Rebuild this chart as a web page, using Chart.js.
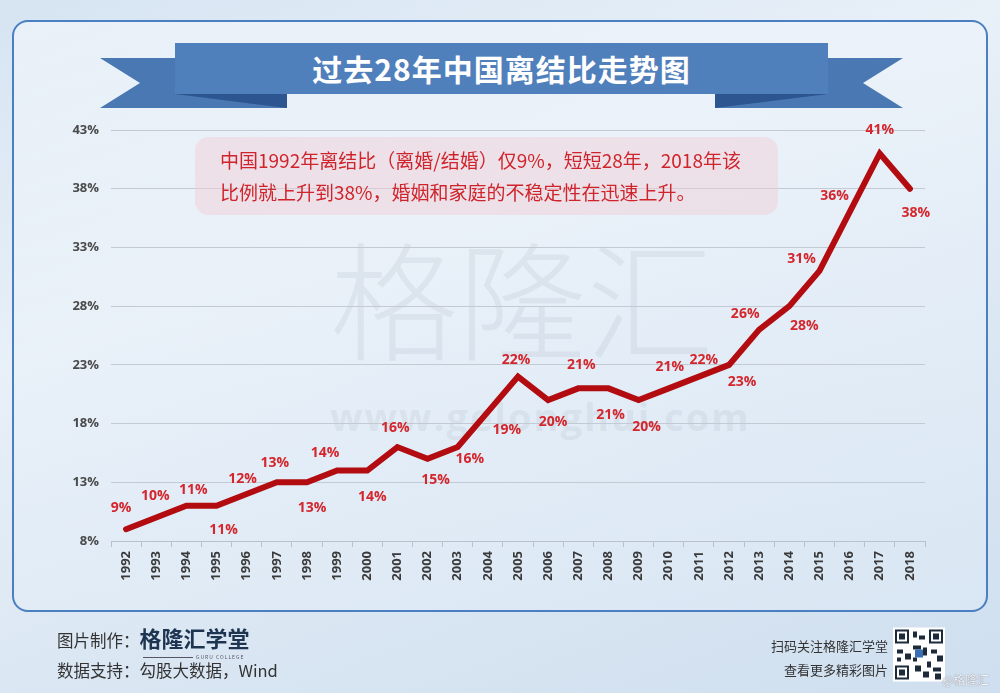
<!DOCTYPE html>
<html>
<head>
<meta charset="utf-8">
<title>过去28年中国离结比走势图</title>
<script src="https://cdn.jsdelivr.net/npm/chart.js@4.4.1/dist/chart.umd.min.js"></script>
<style>
  html, body { margin: 0; padding: 0; }
  body { width: 1000px; height: 693px; overflow: hidden; font-family: "Noto Sans CJK SC", "Noto Sans", sans-serif; }
  #page {
    position: relative; width: 1000px; height: 693px;
    background: linear-gradient(160deg, #d6e4f2 0%, #e8f0f8 35%, #dbe7f3 65%, #cfdfef 100%);
  }
  .frame {
    position: absolute; left: 12px; top: 20px; width: 972px; height: 588px;
    border: 2px solid #4a7fc1; border-radius: 16px;
    background: linear-gradient(170deg, rgba(240,245,251,0.7), rgba(222,234,246,0.55));
  }
  #ribbon { position: absolute; left: 0; top: 0; }
  .title {
    position: absolute; left: 175px; top: 43px; width: 653px; height: 51px;
    line-height: 51px; text-align: center; color: #fff; font-weight: 700; font-size: 30px;
    letter-spacing: 1px;
  }
  .watermark {
    position: absolute; left: 330px; top: 232px; font-size: 128px; line-height: 1; font-weight: 300;
    color: rgba(140,150,165,0.13);
  }
  .watermark-url {
    position: absolute; left: 330px; top: 390px; font-size: 38px; font-weight: 700;
    font-family: "Open Sans", sans-serif; color: rgba(140,150,165,0.14); letter-spacing: 2px;
  }
  #wrap { position: absolute; left: 0; top: 0; width: 1000px; height: 693px; }
  .note {
    position: absolute; left: 195px; top: 137px; width: 583px; height: 78px;
    border-radius: 14px; background: rgba(242,205,210,0.45);
    color: #d0242c; font-size: 19px; line-height: 32px; box-sizing: border-box; padding: 7px 0 0 25px;
    white-space: nowrap;
  }
  .foot { position: absolute; color: #333; font-size: 16.5px; }
  .brand { font-weight: 700; font-size: 22px; color: #1e3552; }
  .guru { position: absolute; left: 143px; top: 654px; font-size: 5px; line-height: 5px; color: #556; letter-spacing: 1px; }
  .guru:before { content: ""; display: inline-block; width: 50px; height: 1px; background: #556; vertical-align: middle; margin-right: 3px; }
  .qr { position: absolute; left: 893px; top: 627px; width: 52px; height: 55px; }
  .right { position: absolute; right: 112px; font-size: 13px; color: #333; text-align: right; }
  .at { position: absolute; left: 942px; top: 671px; font-size: 12px; color: #f4f6f8; text-shadow: 0 0 1px #556; }
</style>
</head>
<body>
<div id="page">
  <div class="frame"></div>
  <svg id="ribbon" width="1000" height="120">
    <polygon points="100,58 287,58 287,108 100,108 140,83" fill="#4a78b2"/>
    <polygon points="903,58 715,58 715,108 903,108 863,83" fill="#4a78b2"/>
    <polygon points="175,94 287,94 287,108" fill="#2d5690"/>
    <polygon points="828,94 715,94 715,108" fill="#2d5690"/>
    <rect x="175" y="43" width="653" height="51" fill="#5080bb"/>
  </svg>
  <div class="title">过去28年中国离结比走势图</div>
  <div class="watermark">格隆汇</div>
  <div class="watermark-url">www.gelonghui.com</div>
  <div id="wrap"><canvas id="chart" width="1000" height="693"></canvas></div>
  <div class="note">中国1992年离结比（离婚/结婚）仅9%，短短28年，2018年该<br>比例就上升到38%，婚姻和家庭的不稳定性在迅速上升。</div>

  <div class="foot" style="left:57px; top:621px;">图片制作：<span class="brand">格隆汇学堂</span></div>
  <div class="guru">GURU COLLEGE</div>
  <div class="foot" style="left:57px; top:658px;">数据支持：勾股大数据，Wind</div>
  <div class="right" style="top:636px;">扫码关注格隆汇学堂</div>
  <div class="right" style="top:660px;">查看更多精彩图片</div>
  <svg class="qr" viewBox="0 0 26 27">
    <rect width="26" height="27" fill="#fff"/>
    <g fill="#1c2a3a">
      <rect x="1" y="1" width="7" height="7"/><rect x="18" y="1" width="7" height="7"/><rect x="1" y="19" width="7" height="7"/>
      <rect x="10" y="2" width="2" height="3"/><rect x="13" y="4" width="3" height="2"/><rect x="10" y="9" width="4" height="2"/>
      <rect x="2" y="11" width="3" height="2"/><rect x="6" y="13" width="3" height="3"/><rect x="15" y="10" width="2" height="4"/>
      <rect x="19" y="11" width="3" height="2"/><rect x="22" y="14" width="3" height="3"/><rect x="17" y="17" width="2" height="3"/>
      <rect x="20" y="20" width="4" height="2"/><rect x="11" y="19" width="3" height="3"/><rect x="15" y="22" width="3" height="3"/>
      <rect x="21" y="23" width="3" height="3"/><rect x="2" y="15" width="2" height="2"/><rect x="10" y="15" width="2" height="2"/>
    </g>
    <g fill="#fff"><rect x="2" y="2" width="5" height="5"/><rect x="19" y="2" width="5" height="5"/><rect x="2" y="20" width="5" height="5"/></g>
    <g fill="#1c2a3a"><rect x="3" y="3" width="3" height="3"/><rect x="20" y="3" width="3" height="3"/><rect x="3" y="21" width="3" height="3"/></g>
    <rect x="11" y="11" width="4" height="4" fill="#3a6fb5"/>
  </svg>
  <div class="at">@格隆汇</div>
</div>

<script>
// 年份
const years = ['1992','1993','1994','1995','1996','1997','1998','1999','2000','2001','2002','2003','2004',
  '2005','2006','2007','2008','2009','2010','2011','2012','2013','2014','2015','2016','2017','2018'];
// 离结比 (%)
const ratio = [9,10,11,11,12,13,13,14,14,16,15,16,19,22,20,21,21,20,21,22,23,26,28,31,36,41,38];
// y axis ticks (%)
const yMin = 8, yMax = 43, yStep = 5;

// where each value label sits relative to its point, [dx, dy] in px
const labelOffsets = [[-5,-21],[-1,-21],[7,-16],[7,24],[-4,-15],[-2,-19],[5,26],[-12,-18],[5,26],[-2,-19],
  [8,21],[12,12],[19,18],[-2,-17],[5,22],[3,-23],[2,27],[8,27],[1,-21],[5,-17],[13,17],[-14,-16],[15,20],
  [-18,-12],[-15,-16],[0,-23],[6,24]];

const valueLabels = {
  id: 'valueLabels',
  afterDatasetsDraw(chart) {
    const ctx = chart.ctx;
    const meta = chart.getDatasetMeta(0);
    ctx.save();
    ctx.font = 'bold 14px "Open Sans", sans-serif';
    ctx.fillStyle = '#d4262c';
    ctx.textAlign = 'center';
    ctx.textBaseline = 'middle';
    meta.data.forEach((pt, i) => {
      const off = labelOffsets[i];
      ctx.fillText(ratio[i] + '%', pt.x + off[0], pt.y + off[1]);
    });
    ctx.restore();
  }
};

const chart = new Chart(document.getElementById('chart'), {
  type: 'line',
  data: {
    labels: years,
    datasets: [{
      data: ratio,
      borderColor: '#b30c10',
      borderWidth: 6,
      borderCapStyle: 'round',
      borderJoinStyle: 'miter',
      pointRadius: 0,
      tension: 0,
      fill: false
    }]
  },
  options: {
    responsive: false,
    animation: false,
    layout: { padding: { left: 0, top: 130, right: 75, bottom: 0 } },
    plugins: { legend: { display: false }, tooltip: { enabled: false } },
    scales: {
      x: {
        offset: true,
        grid: { offset: true, drawOnChartArea: false, drawTicks: true, tickLength: 6, color: '#b9c2cc' },
        border: { display: true, color: '#b9c2cc', width: 1 },
        ticks: {
          minRotation: 90, maxRotation: 90, padding: 4,
          color: '#3a3a3a', font: { family: '"Open Sans", sans-serif', size: 13, weight: 'bold' }
        },
        afterFit(scale) { scale.height = 152; }
      },
      y: {
        min: yMin, max: yMax,
        grid: { color: '#c3cad3', lineWidth: 1, drawTicks: false },
        border: { display: false },
        ticks: {
          stepSize: yStep, padding: 12,
          color: '#4a4a4a', font: { family: '"Open Sans", sans-serif', size: 13, weight: 'bold' },
          callback: v => v + '%'
        },
        afterFit(scale) { scale.width = 111; }
      }
    }
  },
  plugins: [valueLabels]
});
</script>
</body>
</html>
